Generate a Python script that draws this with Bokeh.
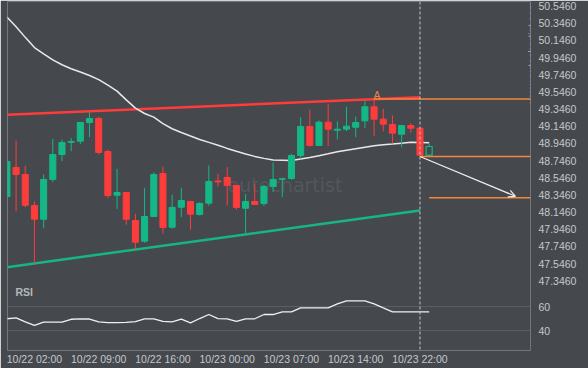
import math
from bokeh.plotting import figure
from bokeh.models import (Range1d, FixedTicker, PrintfTickFormatter, Span, Label,
                          Arrow, OpenHead, ColumnDataSource, Grid)
from bokeh.embed import file_html
from bokeh.resources import INLINE

# ---------------- data ----------------
idx = list(range(47))
opens = [48.328, 48.666, 48.584, 48.223, 48.063, 48.526, 48.817, 48.959, 48.972, 49.190,
         49.237, 48.852, 48.343, 48.374, 48.048, 47.807, 48.095, 48.596, 47.970, 48.203,
         48.270, 48.118, 48.250, 48.508, 48.549, 48.456, 48.191, 48.270, 48.246, 48.444,
         48.529, 48.538, 48.806, 49.144, 48.922, 49.194, 49.100, 49.112, 49.135, 49.210,
         49.373, 49.229, 49.167, 49.054, 49.155, 49.124, 48.809]
closes = [48.736, 48.584, 48.226, 48.063, 48.526, 48.817, 48.957, 48.969, 49.190, 49.237,
          48.841, 48.339, 48.374, 48.063, 47.795, 48.095, 48.584, 47.967, 48.200, 48.281,
          48.122, 48.246, 48.503, 48.497, 48.456, 48.200, 48.270, 48.235, 48.444, 48.526,
          48.534, 48.806, 49.144, 48.922, 49.194, 49.112, 49.112, 49.147, 49.190, 49.373,
          49.229, 49.170, 49.066, 49.155, 49.124, 48.809, 48.910]
highs = [48.747, 48.980, 48.686, 48.270, 48.584, 49.000, 48.992, 49.007, 49.196, 49.310,
         49.260, 48.872, 48.651, 48.380, 48.126, 48.429, 48.611, 48.677, 48.348, 48.429,
         48.275, 48.261, 48.689, 48.592, 48.669, 48.462, 48.355, 48.479, 48.464, 48.724,
         48.538, 48.825, 49.252, 49.338, 49.214, 49.408, 49.202, 49.373, 49.260, 49.447,
         49.466, 49.350, 49.272, 49.161, 49.182, 49.132, 48.942]
lows = [48.322, 48.156, 48.203, 47.543, 47.958, 48.494, 48.739, 48.856, 48.937, 49.019,
        48.817, 48.308, 48.184, 47.998, 47.710, 47.788, 48.087, 47.893, 47.951, 48.087,
        47.940, 48.106, 48.219, 48.444, 48.223, 48.173, 47.900, 48.229, 48.219, 48.378,
        48.320, 48.522, 48.767, 48.910, 48.916, 48.914, 48.992, 49.089, 49.019, 49.124,
        49.031, 49.085, 48.945, 48.902, 49.074, 48.800, 48.806]
ma = [50.420, 50.305, 50.182, 50.063, 49.989, 49.919, 49.863, 49.817, 49.779, 49.738,
      49.689, 49.625, 49.556, 49.454, 49.357, 49.295, 49.252, 49.177, 49.117, 49.074,
      49.032, 48.992, 48.958, 48.924, 48.888, 48.855, 48.823, 48.795, 48.772, 48.754,
      48.751, 48.747, 48.765, 48.781, 48.803, 48.825, 48.848, 48.866, 48.884, 48.902,
      48.920, 48.930, 48.938, 48.949, 48.959, 48.957, 48.954]
rsi = [49.9, 50.7, 47.3, 44.4, 47.1, 47.1, 47.1, 49.5, 49.9, 49.7,
       47.3, 46.8, 46.7, 46.9, 47.5, 49.9, 49.9, 47.7, 47.4, 49.6,
       46.6, 50.1, 53.4, 50.1, 49.9, 47.7, 49.9, 49.9, 53.4, 53.4,
       55.6, 55.6, 58.9, 58.9, 58.9, 58.9, 62.1, 64.7, 64.7, 64.7,
       62.1, 58.8, 55.6, 55.6, 55.6, 55.6, 55.6]
current = 46  # forming candle (hollow)

res_x = [0, 45]
res_y = [49.280, 49.485]
sup_x = [0, 45]
sup_y = [47.504, 48.165]

level_a_x, level_a = 40, 49.464
breakout_x, breakout = 45, 48.794
target_x, target = 46, 48.313
arrow_end_x, arrow_end_y = 55.4, 48.33
now_x = 45

price_ticks = [50.546, 50.346, 50.146, 49.946, 49.746, 49.546, 49.346, 49.146, 48.946,
               48.746, 48.546, 48.346, 48.146, 47.946, 47.746, 47.546, 47.346]
rsi_ticks = [40, 60]
tick_idx = [3, 10, 17, 24, 31, 38, 45]
tick_labels = ["10/22 02:00", "10/22 09:00", "10/22 16:00", "10/23 00:00",
               "10/23 07:00", "10/23 14:00", "10/23 22:00"]

# ---------------- style ----------------
BG = "#45494e"
UP = "#14b886"
DN = "#fd3c3c"
SUP = "#17b584"
RES = "#ff3b3b"
ORANGE = "#f7853b"
TXT = "#c5c8cc"
FONT = "Liberation Sans"

price_range = Range1d(46.533, 50.600)
rsi_range = Range1d(23.79, 311.03)

p = figure(width=588, height=368, x_range=Range1d(0.065, 57.04), y_range=price_range,
           output_backend="svg", toolbar_location=None, y_axis_location="right",
           min_border_left=7, min_border_right=58, min_border_top=1, min_border_bottom=18,
           background_fill_color=BG, border_fill_color=BG, outline_line_color=None)
p.extra_y_ranges = {"rsi": rsi_range}
p.grid.visible = False


def rsi_on_price_axis(r):
    return price_range.start + (r - rsi_range.start) * (price_range.end - price_range.start) / (rsi_range.end - rsi_range.start)


rsi_tick_pos = [rsi_on_price_axis(r) for r in rsi_ticks]

ya = p.yaxis[0]
ya.ticker = FixedTicker(ticks=price_ticks + rsi_tick_pos)
ya.formatter = PrintfTickFormatter(format="%.4f")
ya.major_label_overrides = {pos: str(r) for pos, r in zip(rsi_tick_pos, rsi_ticks)}
xa = p.xaxis[0]
xa.ticker = FixedTicker(ticks=tick_idx)
xa.major_label_overrides = {i: s for i, s in zip(tick_idx, tick_labels)}
for ax in [ya, xa]:
    ax.axis_line_color = None
    ax.major_tick_line_color = None
    ax.minor_tick_line_color = None
    ax.major_tick_out = 0
    ax.major_tick_in = 0
    ax.major_label_text_font = FONT
    ax.major_label_text_font_size = "10.5px"
    ax.major_label_text_color = TXT
ya.major_label_standoff = 8
xa.major_label_standoff = 2

# RSI grid lines
p.add_layout(Grid(dimension=1, ticker=FixedTicker(ticks=rsi_ticks), y_range_name="rsi",
                  grid_line_color="#5b5f64", grid_line_width=1))

# watermark
p.add_layout(Label(x=30.3, y=48.456, text="autochartist", text_align="center",
                   text_baseline="middle", text_font="DejaVu Sans",
                   text_font_size="19px", text_color="#53575c", level="underlay"))

# trend lines
p.line(res_x, res_y, line_color=RES, line_width=2.5)
p.line(sup_x, sup_y, line_color=SUP, line_width=2.5)

# moving average
p.line(idx, ma, line_color="#e8e8e8", line_width=1.5)


# candles
def sel(cond):
    ii = [i for i in idx if cond(i)]
    return ColumnDataSource(dict(x=ii, o=[opens[i] for i in ii], c=[closes[i] for i in ii],
                                 h=[highs[i] for i in ii], l=[lows[i] for i in ii]))


inc = sel(lambda i: i != current and closes[i] >= opens[i])
dec = sel(lambda i: i != current and closes[i] < opens[i])
cur = sel(lambda i: i == current)

for src, col in [(inc, UP), (dec, DN)]:
    p.segment(x0="x", x1="x", y0="h", y1="l", source=src, line_color=col, line_width=1)
    p.vbar(x="x", width=0.66, top="o", bottom="c", source=src, fill_color=col,
           line_color=col, line_width=1)
p.segment(x0="x", x1="x", y0="h", y1="l", source=cur, line_color=UP, line_width=1)
p.vbar(x="x", width=0.66, top="o", bottom="c", source=cur, fill_color=BG,
       line_color=UP, line_width=1.2)

# levels
p.segment(x0=[level_a_x, breakout_x, target_x], x1=[60, 60, 60],
          y0=[level_a, breakout, target], y1=[level_a, breakout, target],
          line_color=ORANGE, line_width=1.3)

p.add_layout(Arrow(end=OpenHead(size=7, line_color="#eeeeee", line_width=1.2),
                   x_start=breakout_x, y_start=breakout, x_end=arrow_end_x, y_end=arrow_end_y,
                   line_color="#eeeeee", line_width=1.2))

p.add_layout(Label(x=level_a_x, y=highs[level_a_x], text="A", text_align="center",
                   text_baseline="alphabetic", x_offset=3, y_offset=4, text_font=FONT,
                   text_font_size="10.5px", text_color="#e0874a"))

p.add_layout(Label(x=57.2, y=50.006, text="www.autochartist.com", angle=math.pi / 2,
                   text_align="center", text_baseline="middle", text_font=FONT,
                   text_font_size="10.5px", text_color="#a5a9ae"))

# RSI line and label
p.line(idx, rsi, line_color="#f0f0f0", line_width=1.3, y_range_name="rsi")
p.add_layout(Label(x=0.94, y=72.3, y_range_name="rsi", text="RSI", text_align="left",
                   text_baseline="middle", text_font=FONT, text_font_size="10.5px",
                   text_font_style="bold", text_color="#b4b8bc"))

p.add_layout(Span(location=now_x, dimension="height", line_color="#c4c4c4",
                  line_dash="3 2", line_width=1))

open("out.html", "w").write(file_html(p, INLINE))
